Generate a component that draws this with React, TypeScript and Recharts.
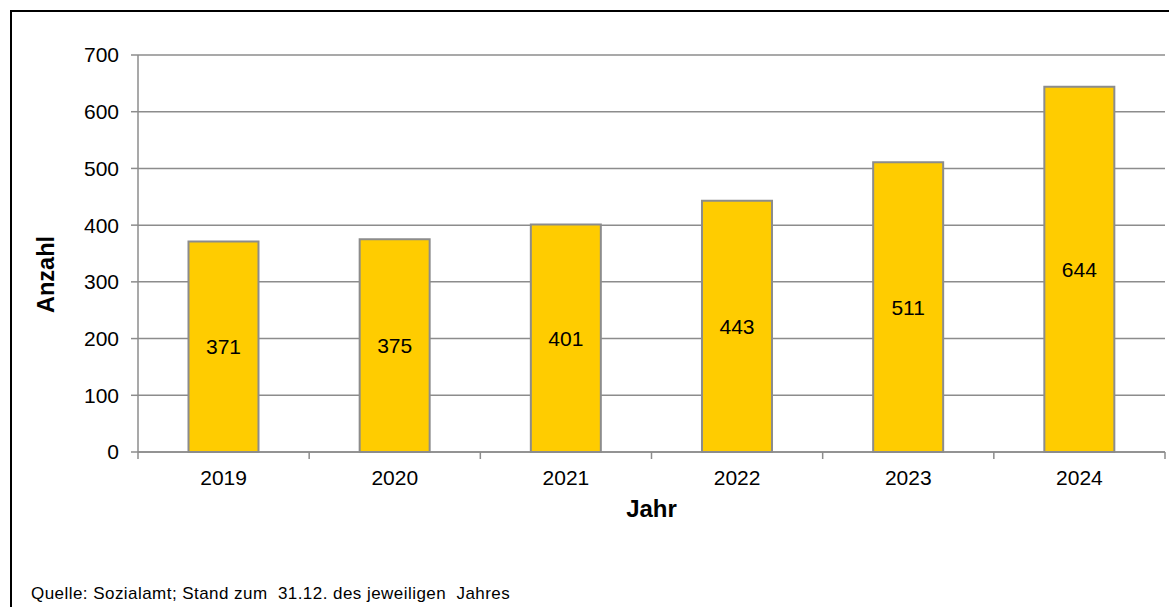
import React from 'react';
import { BarChart, Bar, XAxis, YAxis, CartesianGrid, LabelList, Label } from 'recharts';

const years = ['2019', '2020', '2021', '2022', '2023', '2024'];
const counts = [371, 375, 401, 443, 511, 644];
const yTicks = [0, 100, 200, 300, 400, 500, 600, 700];

const data = years.map((year, i) => ({ year, count: counts[i] }));

const FONT = '"Liberation Sans", Arial, Helvetica, sans-serif';
const GRAY = '#8c8c8c';
const W = 1169;
const H = 607;
const PLOT_LEFT = 138;
const PLOT_RIGHT = 1165;
const Y_AXIS_W = 110;
const X_AXIS_H = 80;
const BAND = (PLOT_RIGHT - PLOT_LEFT) / years.length;

const XTick = (props: any) => {
    const { x, y, payload, index } = props;
    const half = payload && payload.offset ? payload.offset : BAND / 2;
    const isLast = index === years.length - 1;
    return (
        <g>
            <line x1={x - half} x2={x - half} y1={y} y2={y + 7} stroke={GRAY} strokeWidth={1.5} />
            {isLast && <line x1={x + half} x2={x + half} y1={y} y2={y + 7} stroke={GRAY} strokeWidth={1.5} />}
            <text x={x} y={y + 33} textAnchor="middle" fontSize={21} fill="#000" fontFamily={FONT}>{payload.value}</text>
        </g>
    );
};

const YTitle = (props: any) => {
    const { viewBox } = props;
    const cx = viewBox.x + 18;
    const cy = viewBox.y + viewBox.height / 2 + 21;
    return (
        <text x={cx} y={cy} transform={`rotate(-90, ${cx}, ${cy})`} textAnchor="middle" dominantBaseline="central"
            fontSize={23.5} fontWeight="bold" fill="#000" fontFamily={FONT}>Anzahl</text>
    );
};

const XTitle = (props: any) => {
    const { viewBox } = props;
    return (
        <text x={viewBox.x + viewBox.width / 2} y={viewBox.y + 65} textAnchor="middle"
            fontSize={24} fontWeight="bold" fill="#000" fontFamily={FONT}>Jahr</text>
    );
};

export default function App() {
    return (
        <div style={{ position: 'fixed', left: 0, top: 0, width: W, height: H, overflow: 'hidden', background: '#fff', fontFamily: FONT }}>
            <div style={{ position: 'absolute', left: 10, top: 10, width: W, height: 2, background: '#000' }} />
            <div style={{ position: 'absolute', left: 10, top: 10, width: 2, height: H, background: '#000' }} />
            <div style={{ position: 'absolute', left: 0, top: 0 }}>
                <BarChart width={W} height={H} data={data} barCategoryGap="29.5%"
                    margin={{ top: 55, right: W - PLOT_RIGHT, bottom: H - 452 - X_AXIS_H, left: PLOT_LEFT - Y_AXIS_W }}>
                    <CartesianGrid vertical={false} stroke={GRAY} strokeWidth={1.5} />
                    <XAxis dataKey="year" height={X_AXIS_H} tick={<XTick />} tickLine={false} tickSize={0} tickMargin={0}
                        axisLine={{ stroke: GRAY, strokeWidth: 1.5 }} interval={0}>
                        <Label content={<XTitle />} />
                    </XAxis>
                    <YAxis width={Y_AXIS_W} domain={[0, 700]} ticks={yTicks} interval={0} tickSize={7} tickMargin={12}
                        tick={{ fontSize: 21, fill: '#000', fontFamily: FONT }}
                        tickLine={{ stroke: GRAY, strokeWidth: 1.5 }} axisLine={{ stroke: GRAY, strokeWidth: 1.5 }}>
                        <Label content={<YTitle />} />
                    </YAxis>
                    <Bar dataKey="count" fill="#ffcc00" stroke={GRAY} strokeWidth={2} isAnimationActive={false}>
                        <LabelList dataKey="count" position="center" fontSize={21} fill="#000" fontFamily={FONT} />
                    </Bar>
                </BarChart>
            </div>
            <div style={{ position: 'absolute', left: 1166.5, top: 12, width: 3, height: H, background: '#fff' }} />
            <div style={{ position: 'absolute', left: 31, top: 584, fontSize: 17, color: '#000', whiteSpace: 'pre', letterSpacing: 0.45 }}>
                Quelle: Sozialamt; Stand zum  31.12. des jeweiligen  Jahres
            </div>
        </div>
    );
}
